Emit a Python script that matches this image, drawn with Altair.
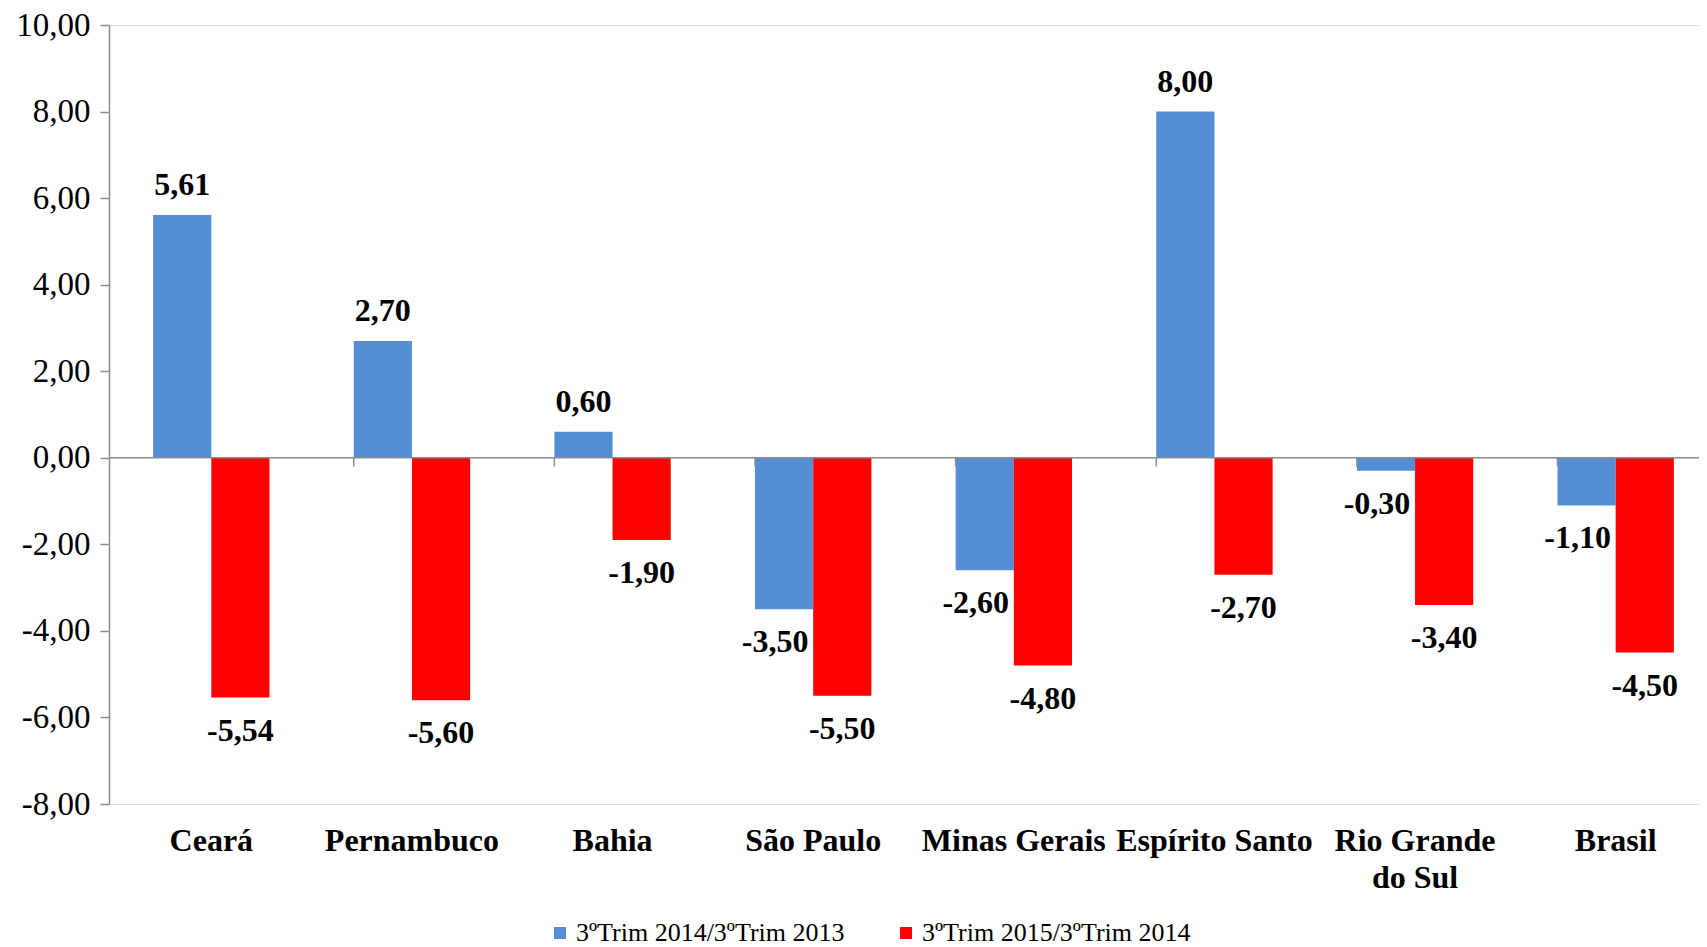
import altair as alt
import pandas as pd

categories = ["Ceará", "Pernambuco", "Bahia", "São Paulo", "Minas Gerais",
              "Espírito Santo", "Rio Grande do Sul", "Brasil"]
series_names = ["3ºTrim 2014/3ºTrim 2013", "3ºTrim 2015/3ºTrim 2014"]
values_2014 = [5.61, 2.70, 0.60, -3.50, -2.60, 8.00, -0.30, -1.10]
values_2015 = [-5.54, -5.60, -1.90, -5.50, -4.80, -2.70, -3.40, -4.50]
y_ticks = [-8, -6, -4, -2, 0, 2, 4, 6, 8, 10]
colors = ["#558ED5", "#FF0000"]

rows = []
for c, a, b in zip(categories, values_2014, values_2015):
    rows.append({"cat": c, "serie": series_names[0], "value": a})
    rows.append({"cat": c, "serie": series_names[1], "value": b})
df = pd.DataFrame(rows)

FONT = "Liberation Serif"
GRAY = "#8c8c8c"
FMT = "replace(replace(format({v}, '.2f'), '.', ','), '\u2212', '-')"

x_scale = alt.Scale(domain=categories, paddingInner=0.42, paddingOuter=0.22)

x_enc = alt.X(
    "cat:N", sort=categories, scale=x_scale,
    axis=alt.Axis(
        title=None, domain=False, ticks=False, labelAngle=0,
        labelFont=FONT, labelFontSize=32, labelFontWeight="bold", labelColor="black",
        labelPadding=21, labelBaseline="top", labelLineHeight=37, labelLimit=0,
        labelExpr="datum.label == 'Rio Grande do Sul' ? ['Rio Grande', 'do Sul'] : datum.label",
    ),
)
y_enc = alt.Y(
    "value:Q", scale=alt.Scale(domain=[-8, 10], nice=False, zero=False),
    axis=alt.Axis(
        title=None, grid=False, values=y_ticks,
        labelExpr=FMT.format(v="datum.value"),
        labelFont=FONT, labelFontSize=33, labelColor="black", labelPadding=10,
        domainColor=GRAY, domainWidth=1.5, tickColor=GRAY, tickWidth=1.5, tickSize=9,
    ),
)
xoff = alt.XOffset("serie:N", sort=series_names,
                   scale=alt.Scale(domain=series_names, paddingInner=0, paddingOuter=0))

base = alt.Chart(df).transform_calculate(lab=FMT.format(v="datum.value"))

bars = base.mark_bar().encode(
    x=x_enc, y=y_enc, xOffset=xoff,
    color=alt.Color(
        "serie:N", sort=series_names,
        scale=alt.Scale(domain=series_names, range=colors),
        legend=alt.Legend(
            orient="none", legendX=438, legendY=895, direction="horizontal",
            title=None, symbolType="square", symbolSize=144, symbolStrokeWidth=0,
            labelFont=FONT, labelFontSize=26, labelColor="black", labelLimit=0,
            columnPadding=48, labelOffset=3,
        ),
    ),
)

text_common = dict(font=FONT, fontSize=32, fontWeight="bold", color="black",
                   baseline="middle", align="center")

def enc(ch):
    return ch.encode(
        x=alt.X("cat:N", sort=categories, scale=x_scale), xOffset=xoff,
        y=alt.Y("value:Q"), text="lab:N",
    )

pos_labels = enc(base.transform_filter("datum.value >= 0").mark_text(dy=-30, **text_common))
neg_red = enc(base.transform_filter(
    f"datum.value < 0 && datum.serie == '{series_names[1]}'"
).mark_text(dy=33, **text_common))
neg_blue = enc(base.transform_filter(
    f"datum.value < 0 && datum.serie == '{series_names[0]}'"
).mark_text(dy=33, dx=-9, **text_common))

zero_rule = alt.Chart(pd.DataFrame({"z": [0]})).mark_rule(color=GRAY, strokeWidth=1.5).encode(
    y=alt.Y("z:Q")
)

tick_df = pd.DataFrame({"cat": categories[1:], "y0": [0] * 7, "y1": [-0.2] * 7})
ticks = alt.Chart(tick_df).mark_rule(color=GRAY, strokeWidth=1.5).encode(
    x=alt.X("cat:N", sort=categories, scale=x_scale, bandPosition=0),
    y=alt.Y("y0:Q"), y2="y1:Q",
)

chart = alt.layer(bars, zero_rule, ticks, pos_labels, neg_red, neg_blue).properties(
    width=1609, height=779,
    autosize=alt.AutoSizeParams(type="none"),
    padding={"left": 101, "top": 17, "right": -19, "bottom": 143},
).configure_view(stroke=None).configure(background="white")

chart.save("out.html", embed_options={"renderer": "svg", "actions": False})
